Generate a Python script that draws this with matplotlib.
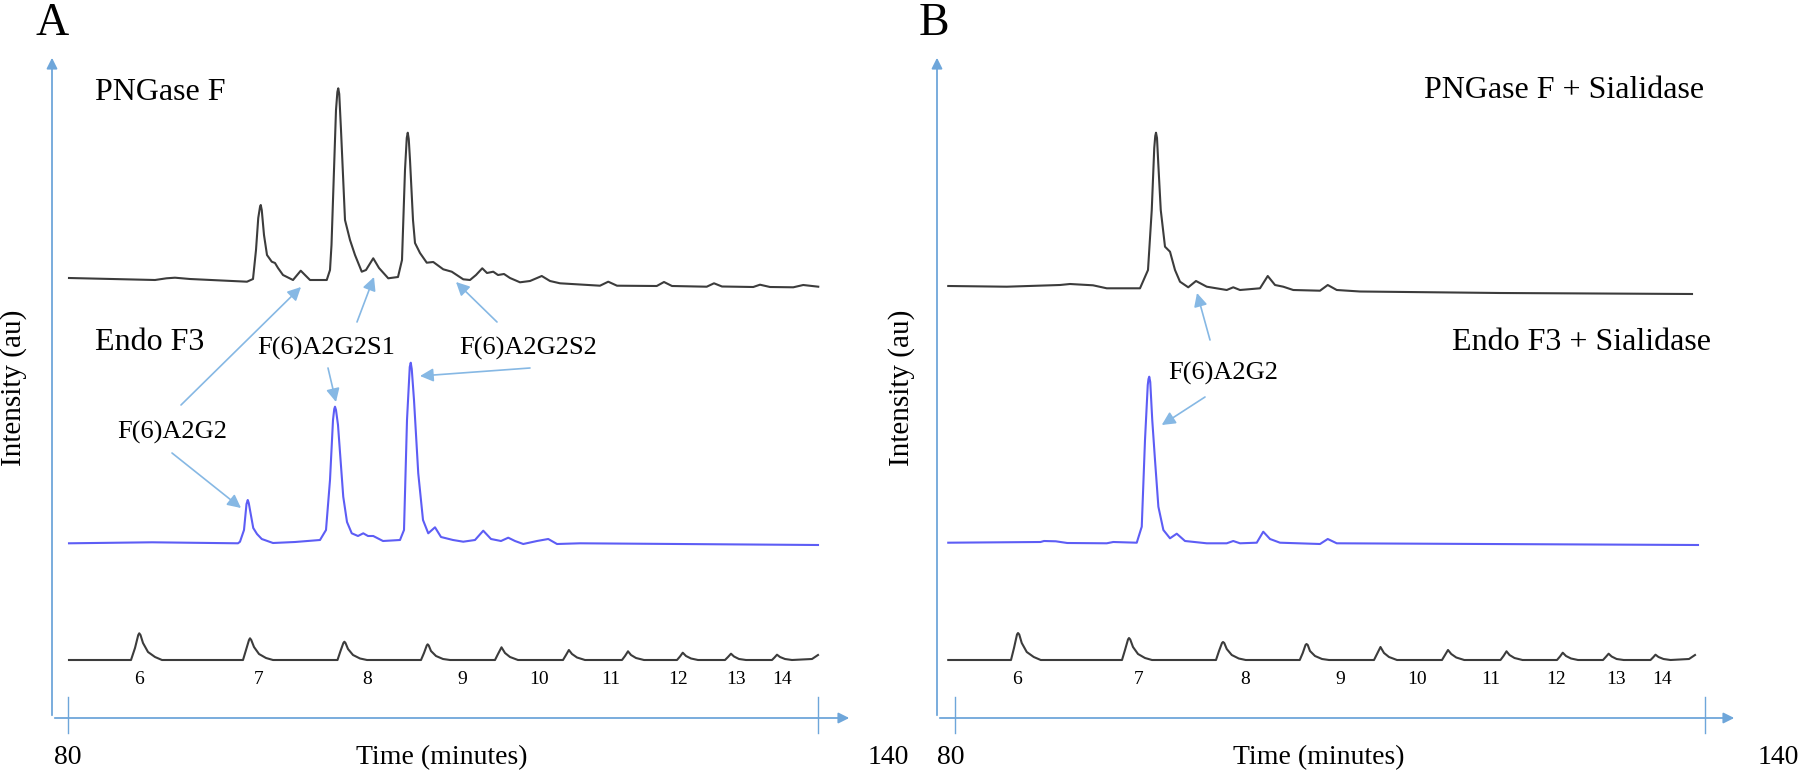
import numpy as np
import matplotlib
matplotlib.use("Agg")
import matplotlib.pyplot as plt

plt.rcParams['font.family'] = ['Liberation Serif', 'DejaVu Serif']

# ---- data: (time, intensity) ----
# panel A, PNGase F
pngase_t = [80.08, 86.96, 87.88, 88.56, 89.76, 94.32, 94.8, 95.04, 95.22, 95.36, 95.42, 95.5, 95.68, 95.92,
            96.3, 96.56, 96.8, 97.2, 98.0, 98.62, 98.96, 99.36, 100.7, 100.96, 101.08, 101.2, 101.44, 101.55,
            101.62, 101.7, 101.84, 102.16, 102.56, 102.96, 103.5, 103.84, 104.42, 104.88, 105.62, 106.4,
            106.72, 106.96, 107.1, 107.18, 107.26, 107.36, 107.6, 107.76, 108.16, 108.7, 109.22, 110.02,
            110.7, 111.62, 112.16, 112.64, 113.14, 113.52, 114.02, 114.4, 114.88, 115.36, 116.16, 116.96,
            117.9, 118.56, 119.36, 122.56, 123.22, 123.92, 127.1, 127.68, 128.32, 131.1, 131.68, 132.32,
            134.82, 135.36, 136.16, 138.02, 138.82, 140.02]
pngase_i = [2, 0, 1.7, 2.3, 1, -1.7, 1, 30, 62, 73, 75, 70, 45, 25,
            18.3, 17, 12, 5, 0, 9.3, 5, 0, 0, 10, 35, 80, 170, 188,
            191.7, 186, 150, 60, 40, 25, 8.3, 10, 21.7, 12, 1.7, 3,
            20, 110, 142, 147.3, 141, 120, 60, 37, 27, 17.3, 18, 10.7,
            8.3, 0.7, 0, 5, 11.7, 7, 8.3, 5, 6, 2, -2.3, -1,
            4, -1, -3.3, -5.7, -1.7, -5.7, -6, -2, -6, -6.7, -3.3, -6.5,
            -7, -4.7, -7, -7.3, -5, -6.7]

# panel A, Endo F3
endo_t = [80.08, 86.72, 93.6, 93.76, 94.08, 94.28, 94.38, 94.46, 94.56, 94.82, 95.12, 95.5, 96.4, 98.16,
          100.16, 100.64, 100.96, 101.2, 101.3, 101.36, 101.44, 101.6, 102.02, 102.32, 102.7, 103.2, 103.62,
          104.0, 104.42, 105.2, 106.56, 106.88, 107.12, 107.34, 107.42, 107.5, 107.68, 108.02, 108.4,
          108.82, 109.36, 109.84, 110.8, 111.62, 112.56, 113.22, 113.84, 114.64, 115.22, 115.76, 116.42,
          117.52, 118.42, 119.12, 120.96, 140.0]
endo_i = [-0.3, 0.7, -0.3, 1.3, 13, 39, 43, 40, 33, 15, 9, 4, 0, 1,
          3, 13, 63, 123, 134, 136.3, 133, 118, 46.3, 21, 9.7, 7, 9.7,
          7, 7, 2, 3, 13, 123, 176, 180.3, 174, 143, 69.7, 23,
          9.7, 15.7, 6, 3, 1.3, 3, 12.3, 4, 2, 5.3, 2, -1,
          2, 4, -1, -0.3, -2]

# panel A, glucose ladder
ladder_a_t = [80.08,
              85.04, 85.36, 85.62, 85.7, 85.8, 86.0, 86.4, 86.96, 87.52,
              94.0, 94.24, 94.48, 94.56, 94.66, 94.88, 95.28, 95.84, 96.4,
              101.56, 101.8, 102.03, 102.11, 102.2, 102.4, 102.8, 103.36, 103.92,
              108.24, 108.48, 108.7, 108.77, 108.86, 109.04, 109.44, 110.0, 110.56,
              114.16, 114.4, 114.68, 114.96, 115.36, 116.0,
              119.6, 119.84, 120.07, 120.32, 120.72, 121.36,
              124.32, 124.56, 124.8, 125.04, 125.44, 126.08,
              128.72, 128.96, 129.18, 129.44, 129.84, 130.4,
              132.56, 132.8, 133.04, 133.28, 133.68, 134.24,
              136.32, 136.52, 136.72, 136.96, 137.36, 137.92,
              139.52, 140.0]
ladder_a_i = [0,
              0, 12, 25, 26.7, 25, 17, 8, 3, 0,
              0, 10, 20, 21.7, 20, 13, 6, 2, 0,
              0, 9, 17, 18.3, 17, 11, 5, 1.5, 0,
              0, 7, 14.5, 15.7, 14.5, 9, 4, 1, 0,
              0, 6, 12.7, 7, 3, 0,
              0, 5, 10, 6, 2.5, 0,
              0, 4, 8.7, 5, 2, 0,
              0, 3.5, 7.3, 4, 1.5, 0,
              0, 3, 6.3, 3.5, 1, 0,
              0, 2.5, 5.3, 3, 1, 0,
              1, 5]
ladder_a_lab_t = [85.68, 95.28, 103.92, 111.52, 117.68, 123.44, 128.8, 133.44, 137.12]

# panel B, PNGase F + Sialidase
pngase_s_t = [79.5, 84.18, 88.44, 89.24, 91.08, 92.18, 94.84, 95.48, 95.78, 95.98, 96.06, 96.12, 96.2, 96.3,
              96.5, 96.84, 97.24, 97.64, 98.04, 98.7, 99.32, 100.18, 101.78, 102.3, 102.84, 104.44, 105.06,
              105.64, 106.3, 107.1, 109.24, 109.86, 110.58, 112.44, 123.64, 139.0]
pngase_s_i = [2, 1.3, 3, 4, 2.7, -0.3, -0.3, 18, 78, 140, 152, 155.3, 150, 125,
              78, 41.3, 36.3, 18, 6.3, 0.7, 7, 1.3, -2, 0.7, -2, -0.3, 12,
              3, 1.3, -2, -2.7, 3, -2, -3.5, -5, -6]

# panel B, Endo F3 + Sialidase
endo_s_t = [79.5, 86.88, 87.16, 88.1, 89.02, 92.18, 92.7, 94.58, 94.98, 95.24, 95.46, 95.52, 95.58, 95.66,
            95.82, 96.04, 96.31, 96.71, 97.24, 97.78, 98.44, 100.18, 101.78, 102.3, 102.84, 104.18, 104.7,
            105.24, 106.04, 109.24, 109.86, 110.58, 139.48]
endo_s_i = [0.3, 1, 2, 1.7, 0, -0.3, 1, 0.3, 16.3, 103, 158, 164, 166.3, 161,
            123, 83, 36.3, 13, 4.7, 9.3, 2, -0.3, -0.3, 2, -0.3, 0.3, 11.3,
            4, 0.3, -1, 4, -0.3, -2]

# panel B, glucose ladder
ladder_b_t = [79.5,
              84.52, 84.76, 85.0, 85.08, 85.18, 85.38, 85.78, 86.34, 86.9,
              93.4, 93.64, 93.88, 93.96, 94.06, 94.28, 94.68, 95.24, 95.8,
              100.92, 101.16, 101.4, 101.48, 101.58, 101.78, 102.18, 102.74, 103.3,
              107.62, 107.86, 108.08, 108.16, 108.26, 108.44, 108.84, 109.4, 109.96,
              113.56, 113.8, 114.08, 114.36, 114.76, 115.4,
              119.0, 119.24, 119.48, 119.74, 120.14, 120.78,
              123.68, 123.92, 124.16, 124.4, 124.8, 125.44,
              128.2, 128.44, 128.66, 128.92, 129.32, 129.88,
              131.88, 132.1, 132.33, 132.57, 132.97, 133.53,
              135.68, 135.88, 136.08, 136.32, 136.72, 137.28,
              138.76, 139.24]
ladder_b_i = [0,
              0, 12, 25.5, 27, 25.5, 17, 8, 3, 0,
              0, 10, 20.5, 22, 20.5, 13, 6, 2, 0,
              0, 9, 17, 18, 17, 11, 5, 1.5, 0,
              0, 7, 15, 16, 15, 9, 4, 1, 0,
              0, 6, 13, 7, 3, 0,
              0, 5, 10, 6, 2.5, 0,
              0, 4, 8.7, 5, 2, 0,
              0, 3.5, 7.3, 4, 1.5, 0,
              0, 3, 6.3, 3.5, 1, 0,
              0, 2.5, 5.3, 3, 1, 0,
              1, 5]
ladder_b_lab_t = [85.0, 94.76, 103.24, 110.84, 117.0, 122.92, 128.16, 132.92, 136.6]

gu_labels = ['6', '7', '8', '9', '10', '11', '12', '13', '14']

# ---- layout ----
top_off_a = 438
top_off_b = 430
mid_off = 175
low_off = 58

axis_col = '#6ea6da'
arr_col = '#86b8e4'
trace_col = '#3c3c3c'
blue_col = '#5d5df5'

fig = plt.figure(figsize=(18, 7.75), dpi=100)
axA = fig.add_axes([0.0, 0.0, 0.5, 1.0])
axB = fig.add_axes([0.5, 0.0, 0.5, 1.0])
axA.set_xlim(74.56, 146.56)
axB.set_xlim(75.64, 147.64)
for ax in (axA, axB):
    ax.set_ylim(-57, 718)
    ax.axis('off')


def draw_axes(ax, x0, x1):
    # intensity axis and time axis with arrow heads
    ax.annotate('', xy=(x0, 663), xytext=(x0, 0),
                arrowprops=dict(arrowstyle='-|>', color=axis_col, lw=1.3, mutation_scale=16))
    ax.annotate('', xy=(x1, 0), xytext=(x0, 0),
                arrowprops=dict(arrowstyle='-|>', color=axis_col, lw=1.3, mutation_scale=16))
    for t in (80, 140):
        ax.plot([t, t], [-15, 21], color=axis_col, lw=1.0)


def arrow(ax, tail, head):
    ax.annotate('', xy=head, xytext=tail,
                arrowprops=dict(arrowstyle='-|>', color=arr_col, lw=1.2, mutation_scale=20,
                                shrinkA=0, shrinkB=0))


def trace(ax, t, i, off, col):
    ax.plot(t, np.array(i) + off, color=col, lw=1.5, solid_joinstyle='round')


# ---- panel A ----
draw_axes(axA, 78.72, 142.72)
trace(axA, pngase_t, pngase_i, top_off_a, trace_col)
trace(axA, endo_t, endo_i, mid_off, blue_col)
trace(axA, ladder_a_t, ladder_a_i, low_off, trace_col)
for t, s in zip(ladder_a_lab_t, gu_labels):
    axA.text(t, 38, s, fontsize=14, ha='center', va='center')

axA.text(78.72, 694, 'A', fontsize=33, ha='center', va='center')
axA.text(82.16, 626, 'PNGase F', fontsize=23, ha='left', va='center')
axA.text(82.16, 375, 'Endo F3', fontsize=23, ha='left', va='center')
axA.text(100.64, 370, 'F(6)A2G2S1', fontsize=19, ha='center', va='center')
axA.text(116.8, 370, 'F(6)A2G2S2', fontsize=19, ha='center', va='center')
axA.text(88.32, 286, 'F(6)A2G2', fontsize=19, ha='center', va='center')
axA.text(75.68, 330, 'Intensity (au)', fontsize=21, rotation=90, ha='center', va='center')
axA.text(80, -40, '80', fontsize=20, ha='center', va='center')
axA.text(145.6, -40, '140', fontsize=20, ha='center', va='center')
axA.text(109.92, -40, 'Time (minutes)', fontsize=20, ha='center', va='center')

arrow(axA, (89.04, 313), (98.64, 431))
arrow(axA, (88.32, 265), (93.84, 210))
arrow(axA, (103.12, 396), (104.48, 441))
arrow(axA, (100.8, 350), (101.44, 316))
arrow(axA, (114.32, 396), (111.04, 436))
arrow(axA, (116.96, 350), (108.16, 342))

# ---- panel B ----
draw_axes(axB, 78.6, 142.6)
trace(axB, pngase_s_t, pngase_s_i, top_off_b, trace_col)
trace(axB, endo_s_t, endo_s_i, mid_off, blue_col)
trace(axB, ladder_b_t, ladder_b_i, low_off, trace_col)
for t, s in zip(ladder_b_lab_t, gu_labels):
    axB.text(t, 38, s, fontsize=14, ha='center', va='center')

axB.text(78.36, 694, 'B', fontsize=33, ha='center', va='center')
axB.text(139.96, 628, 'PNGase F + Sialidase', fontsize=23, ha='right', va='center')
axB.text(140.52, 376, 'Endo F3 + Sialidase', fontsize=23, ha='right', va='center')
axB.text(101.48, 345, 'F(6)A2G2', fontsize=19, ha='center', va='center')
axB.text(75.76, 330, 'Intensity (au)', fontsize=21, rotation=90, ha='center', va='center')
axB.text(79.72, -40, '80', fontsize=20, ha='center', va='center')
axB.text(145.88, -40, '140', fontsize=20, ha='center', va='center')
axB.text(109.16, -40, 'Time (minutes)', fontsize=20, ha='center', va='center')

arrow(axB, (100.44, 378), (99.4, 425))
arrow(axB, (100.04, 321), (96.58, 293))

fig.savefig('out.png', dpi=100)
